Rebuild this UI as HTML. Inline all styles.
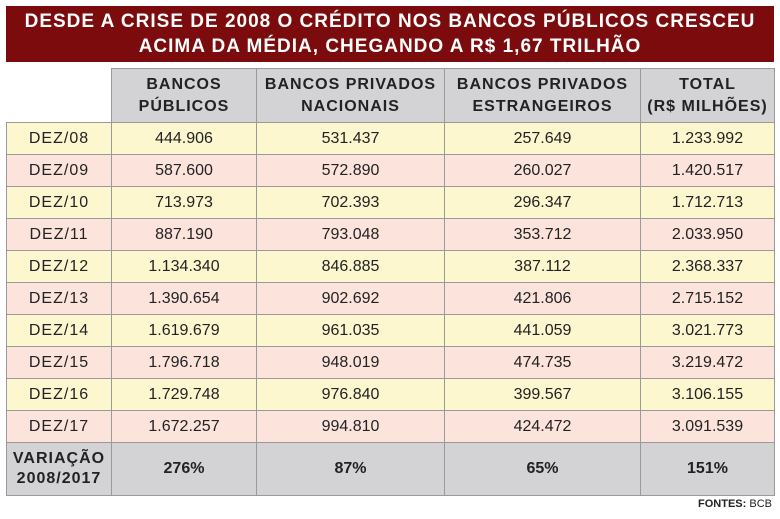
<!DOCTYPE html>
<html><head><meta charset="utf-8"><style>
body{margin:0;width:780px;height:519px;background:#fff;font-family:"Liberation Sans",sans-serif;position:relative;overflow:hidden}
#title{position:absolute;left:6px;top:6px;width:768px;height:56px;background:#7b0b0c;color:#fff;font-weight:bold;font-size:19px;letter-spacing:1px;text-align:center;line-height:25px;padding-top:3px;box-sizing:border-box}
table{position:absolute;left:6px;top:68px;border-collapse:collapse;table-layout:fixed}
td,th{border:1px solid #9a9a9a;text-align:center;font-size:16px;color:#222;padding:0}
th{background:#d3d3d5;font-weight:bold;font-size:16px;letter-spacing:1px;line-height:22px;height:53px}
tr.y td{background:#fcf7cf}
tr.p td{background:#fce4dc}
td{height:31px}
td.lab{letter-spacing:1px}
tr.v td{background:#d3d3d5;font-weight:bold;height:52px;font-size:16px}
th.blank{background:#fff;border:none;border-right:1px solid #9a9a9a;border-bottom:1px solid #9a9a9a}
#src{position:absolute;right:8px;top:498px;font-size:11px;color:#222}
</style></head><body>
<div id="title">DESDE A CRISE DE 2008 O CRÉDITO NOS BANCOS PÚBLICOS CRESCEU<br>ACIMA DA MÉDIA, CHEGANDO A R$ 1,67 TRILHÃO</div>
<table>
<colgroup><col style="width:105px"><col style="width:145px"><col style="width:188px"><col style="width:196px"><col style="width:134px"></colgroup>
<tr><th class="blank"></th><th>BANCOS<br>PÚBLICOS</th><th>BANCOS PRIVADOS<br>NACIONAIS</th><th>BANCOS PRIVADOS<br>ESTRANGEIROS</th><th>TOTAL<br>(R$ MILHÕES)</th></tr>
<tr class="y"><td class="lab">DEZ/08</td><td>444.906</td><td>531.437</td><td>257.649</td><td>1.233.992</td></tr>
<tr class="p"><td class="lab">DEZ/09</td><td>587.600</td><td>572.890</td><td>260.027</td><td>1.420.517</td></tr>
<tr class="y"><td class="lab">DEZ/10</td><td>713.973</td><td>702.393</td><td>296.347</td><td>1.712.713</td></tr>
<tr class="p"><td class="lab">DEZ/11</td><td>887.190</td><td>793.048</td><td>353.712</td><td>2.033.950</td></tr>
<tr class="y"><td class="lab">DEZ/12</td><td>1.134.340</td><td>846.885</td><td>387.112</td><td>2.368.337</td></tr>
<tr class="p"><td class="lab">DEZ/13</td><td>1.390.654</td><td>902.692</td><td>421.806</td><td>2.715.152</td></tr>
<tr class="y"><td class="lab">DEZ/14</td><td>1.619.679</td><td>961.035</td><td>441.059</td><td>3.021.773</td></tr>
<tr class="p"><td class="lab">DEZ/15</td><td>1.796.718</td><td>948.019</td><td>474.735</td><td>3.219.472</td></tr>
<tr class="y"><td class="lab">DEZ/16</td><td>1.729.748</td><td>976.840</td><td>399.567</td><td>3.106.155</td></tr>
<tr class="p"><td class="lab">DEZ/17</td><td>1.672.257</td><td>994.810</td><td>424.472</td><td>3.091.539</td></tr>
<tr class="v"><td style="line-height:20px;letter-spacing:1px">VARIAÇÃO<br>2008/2017</td><td>276%</td><td>87%</td><td>65%</td><td>151%</td></tr>
</table>
<div id="src"><b>FONTES:</b> BCB</div>
</body></html>
